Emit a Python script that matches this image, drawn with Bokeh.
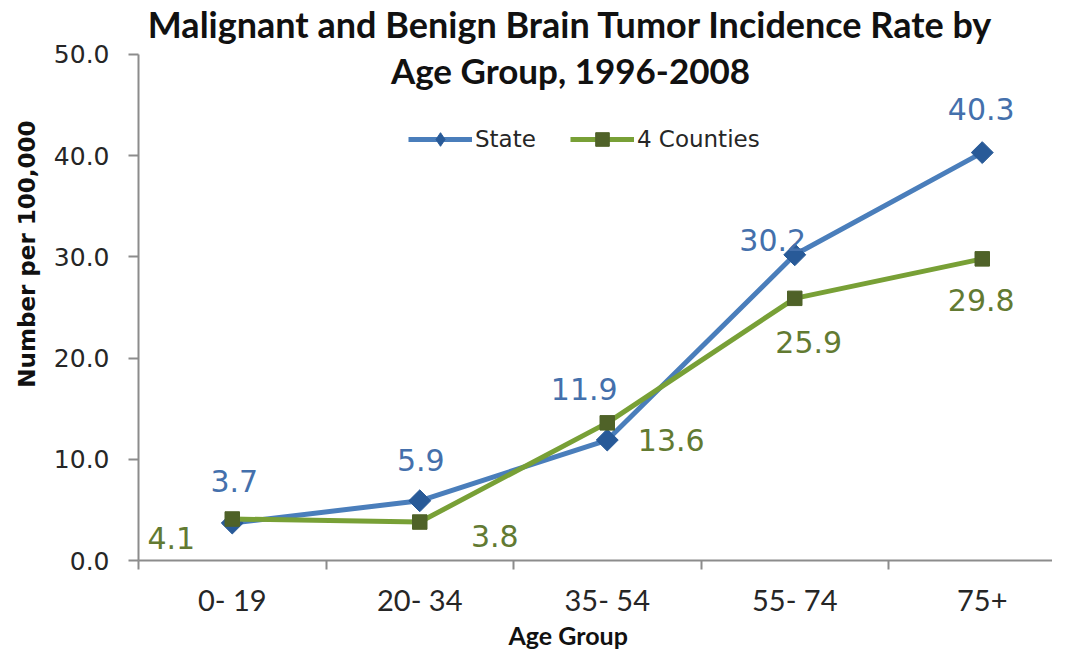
import math
from bokeh.plotting import figure
from bokeh.models import (Range1d, FixedTicker, LinearAxis, Label, Legend, LegendItem,
                          ColumnDataSource, PrintfTickFormatter, Title)
from bokeh.core.properties import value
from bokeh.embed import file_html
from bokeh.resources import INLINE

# ---- data ----
categories = ["0- 19", "20- 34", "35- 54", "55- 74", "75+"]
state = [3.7, 5.9, 11.9, 30.2, 40.3]
counties = [4.1, 3.8, 13.6, 25.9, 29.8]
y_ticks = [0, 10, 20, 30, 40, 50]

# label offsets (pixels) - styling only
state_dx = [2, 1, -23, -22, -1]
state_dy = [-42, -41, -51, -15, -44]
county_dx = [-61, 75, 64, 14, -1]
county_dy = [19, 14, 17, 44, 41]

BLUE_LINE = "#4A7EBB"
BLUE_MARK = "#285A98"
BLUE_TEXT = "#4470AC"
GREEN_LINE = "#78A036"
GREEN_MARK = "#4F6228"
GREEN_TEXT = "#627A32"
AXIS_GREY = "#8C8C8C"
TEXT_DARK = "#262626"

W, H = 1052, 651
LEFT, BOTTOM_Y = 138, 561          # frame left edge / y of value 0 (pixels from top-left)
PX_PER_CAT = 187.5
PX_PER_UNIT = 10.14

centers = [i + 0.5 for i in range(len(categories))]
bounds_ticks = list(range(len(categories) + 1))

p = figure(width=W, height=H, output_backend="svg", toolbar_location=None,
           x_range=Range1d(0, (W - LEFT) / PX_PER_CAT),
           y_range=Range1d(0, BOTTOM_Y / PX_PER_UNIT),
           min_border_left=LEFT, min_border_top=0, min_border_bottom=H - BOTTOM_Y,
           min_border_right=0, x_axis_type=None, y_axis_type=None)
p.outline_line_color = None
p.xgrid.visible = False
p.ygrid.visible = False

# y axis
yax = LinearAxis(ticker=FixedTicker(ticks=y_ticks), bounds=(0, 50),
                 formatter=PrintfTickFormatter(format="%.1f"))
yax.axis_line_color = AXIS_GREY
yax.axis_line_width = 2
yax.major_tick_line_color = AXIS_GREY
yax.major_tick_line_width = 2
yax.major_tick_out = 10
yax.major_tick_in = 0
yax.minor_tick_line_color = None
yax.major_label_text_font = "DejaVu Sans"
yax.major_label_text_font_size = "25px"
yax.major_label_text_color = TEXT_DARK
yax.major_label_standoff = 19
p.add_layout(yax, "left")

# x axis: labels at category centres, tick marks (minor) at category boundaries
xax = LinearAxis(ticker=FixedTicker(ticks=centers, minor_ticks=bounds_ticks),
                 major_label_overrides={x: c for x, c in zip(centers, categories)})
xax.axis_line_color = AXIS_GREY
xax.axis_line_width = 2
xax.major_tick_line_color = None
xax.major_tick_out = 0
xax.major_tick_in = 0
xax.minor_tick_line_color = AXIS_GREY
xax.minor_tick_line_width = 2
xax.minor_tick_out = 9
xax.minor_tick_in = 0
xax.major_label_text_font = "Lato"
xax.major_label_text_font_size = "29px"
xax.major_label_text_color = TEXT_DARK
xax.major_label_standoff = 12
p.add_layout(xax, "below")

# axis titles
ytitle = Title(text="Number per 100,000", align="right", offset=120, standoff=21,
               text_font="DejaVu Sans", text_font_style="bold", text_font_size="23px",
               text_color="#111111")
p.add_layout(ytitle, "left")
xtitle = Title(text="Age Group", align="left", offset=370, standoff=0, vertical_align="top",
               text_font="Lato", text_font_style="bold", text_font_size="25px",
               text_color="#111111")
p.add_layout(xtitle, "below")

# series
src_s = ColumnDataSource(dict(x=centers, y=state, t=[f"{v:.1f}" for v in state], dx=state_dx, dy=state_dy))
src_c = ColumnDataSource(dict(x=centers, y=counties, t=[f"{v:.1f}" for v in counties], dx=county_dx, dy=county_dy))

l1 = p.line("x", "y", source=src_s, line_color=BLUE_LINE, line_width=5)
m1 = p.scatter("x", "y", source=src_s, marker="square", angle=math.pi / 4, size=15.5,
               fill_color=BLUE_MARK, line_color=BLUE_MARK)
l2 = p.line("x", "y", source=src_c, line_color=GREEN_LINE, line_width=5)
m2 = p.scatter("x", "y", source=src_c, marker="square", size=14.5, fill_color=GREEN_MARK,
               line_color=GREEN_MARK)
# legend-only diamond symbol (placed off-canvas, not a data point)
leg_diamond = p.scatter(x=[float("nan")], y=[float("nan")], marker="diamond", size=20,
                        fill_color=BLUE_MARK, line_color=BLUE_MARK)

p.text("x", "y", text="t", source=src_s, x_offset="dx", y_offset="dy",
       text_align="center", text_baseline="middle", text_color=BLUE_TEXT,
       text_font=value("DejaVu Sans"), text_font_size="30px")
p.text("x", "y", text="t", source=src_c, x_offset="dx", y_offset="dy",
       text_align="center", text_baseline="middle", text_color=GREEN_TEXT,
       text_font=value("DejaVu Sans"), text_font_size="30px")

legend = Legend(items=[LegendItem(label="State", renderers=[l1, leg_diamond]),
                       LegendItem(label="4 Counties", renderers=[l2, m2])],
                orientation="horizontal", location=(270, 404))
legend.border_line_color = None
legend.background_fill_alpha = 0
legend.padding = 0
legend.margin = 0
legend.spacing = 34
legend.glyph_width = 64
legend.glyph_height = 34
legend.label_standoff = 3
legend.label_text_font = "DejaVu Sans"
legend.label_text_font_size = "23px"
legend.label_text_color = TEXT_DARK
p.add_layout(legend, "center")

# chart title (inside the extended frame area above the 50.0 level)
def dx_(px):
    return (px - LEFT) / PX_PER_CAT

def dy_(py):
    return (BOTTOM_Y - py) / PX_PER_UNIT

p.add_layout(Label(x=dx_(570), y=dy_(24), text="Malignant and Benign Brain Tumor Incidence Rate by",
                   text_align="center", text_baseline="middle", text_font="Lato",
                   text_font_style="bold", text_font_size="36px", text_color="#111111"))
p.add_layout(Label(x=dx_(570), y=dy_(70), text="Age Group, 1996-2008",
                   text_align="center", text_baseline="middle", text_font="Lato",
                   text_font_style="bold", text_font_size="35px", text_color="#111111"))

open("out.html", "w").write(file_html(p, INLINE))
